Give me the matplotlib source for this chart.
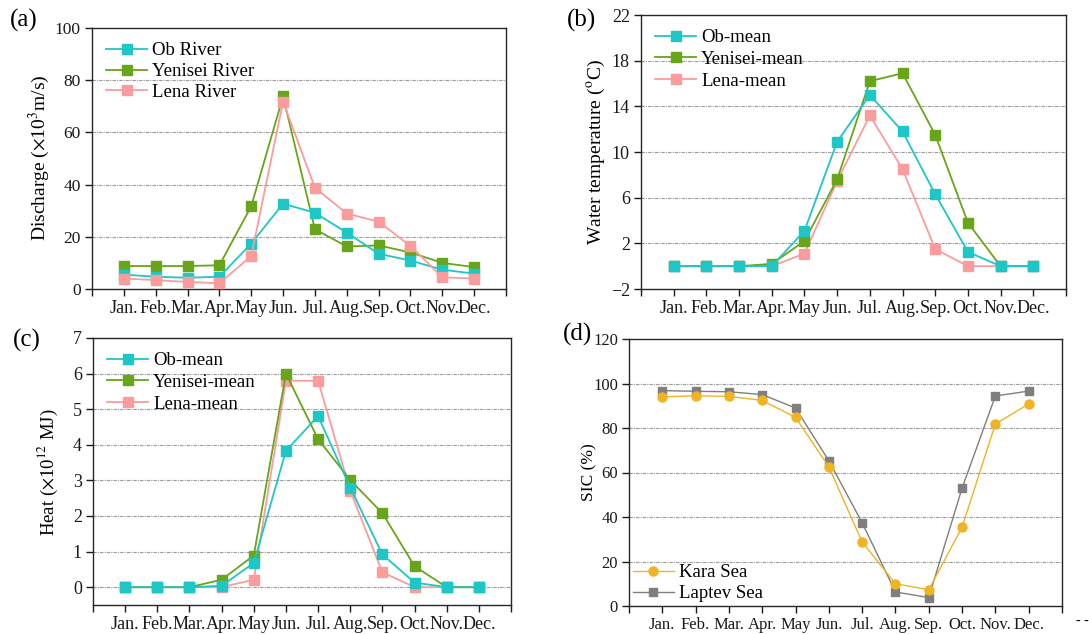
import numpy as np
import matplotlib
matplotlib.use("Agg")
import matplotlib.pyplot as plt

plt.rcParams['font.family'] = ['Liberation Serif', 'DejaVu Serif']
plt.rcParams['mathtext.fontset'] = 'stix'

months = ["Jan.", "Feb.", "Mar.", "Apr.", "May", "Jun.", "Jul.", "Aug.", "Sep.", "Oct.", "Nov.", "Dec."]

# (a) discharge, 10^3 m3/s
ob_q = [5.5, 4.7, 4.3, 4.7, 17.4, 32.7, 29.2, 21.6, 13.5, 10.9, 7.4, 5.9]
yen_q = [8.8, 8.8, 8.8, 9.1, 31.7, 73.8, 22.9, 16.3, 16.7, 14.0, 10.0, 8.4]
lena_q = [4.0, 3.4, 2.7, 2.2, 12.6, 71.8, 38.8, 28.9, 25.8, 16.5, 4.5, 4.0]

# (b) water temperature, degC
ob_t = [0, 0, 0, 0, 3.1, 10.9, 15.0, 11.8, 6.3, 1.25, 0, 0]
yen_t = [0, 0, 0, 0.2, 2.2, 7.6, 16.2, 16.9, 11.5, 3.8, 0, 0]
lena_t = [0, 0, 0, 0, 1.1, 7.45, 13.2, 8.5, 1.5, 0, 0, 0]

# (c) heat, 10^12 MJ
ob_h = [0, 0, 0, 0.04, 0.68, 3.83, 4.81, 2.80, 0.92, 0.13, 0, 0]
yen_h = [0, 0, 0, 0.21, 0.89, 6.0, 4.16, 3.01, 2.08, 0.59, 0, 0]
lena_h = [0, 0, 0, 0, 0.21, 5.80, 5.80, 2.71, 0.42, 0, 0, 0]

# (d) sea ice concentration, %
kara = [94.0, 94.5, 94.2, 92.4, 84.8, 62.5, 28.8, 10.0, 7.3, 35.4, 81.8, 90.8]
laptev = [96.8, 96.5, 96.3, 95.0, 89.0, 65.3, 37.4, 6.3, 3.8, 53.0, 94.4, 96.6]

c_ob = "#1fc6c6"
c_yen = "#68a51a"
c_lena = "#fb9c9c"
c_kara = "#efb324"
c_lap = "#7f7f7f"

W, H = 1089, 634
fig = plt.figure(figsize=(W / 100, H / 100), dpi=100)


def add_ax(left, right, top, bottom):
    return fig.add_axes([left / W, 1 - bottom / H, (right - left) / W, (bottom - top) / H])


def style(ax, ylim, yticks, grid_vals, xfs=13, yfs=13):
    ax.set_xlim(0, 13)
    ax.set_xticks(np.arange(0, 14))
    ax.set_xticklabels([""] + months + [""])
    ax.set_ylim(*ylim)
    ax.set_yticks(yticks)
    ax.tick_params(axis='both', direction='out', length=5, width=1, colors='#1a1a1a')
    ax.tick_params(axis='x', pad=3, labelsize=xfs)
    ax.tick_params(axis='y', pad=3, labelsize=yfs)
    for s in ax.spines.values():
        s.set_color('#262626')
        s.set_linewidth(1.0)
    for g in grid_vals:
        ax.axhline(g, color='#999999', lw=0.8, ls=(0, (3, 1, 1, 1)), zorder=0)


def river_panel(ax, ob, yen, lena, labels, z=(3, 4, 5)):
    x = np.arange(1, 13)
    ax.plot(x, ob, color=c_ob, marker='s', ms=7.5, lw=1.3, label=labels[0], zorder=z[0])
    ax.plot(x, yen, color=c_yen, marker='s', ms=7.5, lw=1.3, label=labels[1], zorder=z[1])
    ax.plot(x, lena, color=c_lena, marker='s', ms=7.5, lw=1.3, label=labels[2], zorder=z[2])


leg_kw = dict(loc='upper left', bbox_to_anchor=(0.0, 1.0), frameon=False, fontsize=13.5,
              handlelength=2.2, handletextpad=0.25, labelspacing=0.2, borderaxespad=0.35)

# (a)
ax1 = add_ax(92, 506, 28, 289)
style(ax1, (0, 100), [0, 20, 40, 60, 80, 100], [20, 40, 60, 80], yfs=12.5)
river_panel(ax1, ob_q, yen_q, lena_q, ["Ob River", "Yenisei River", "Lena River"], z=(4, 3, 5))
ax1.set_ylabel(r"Discharge ($\times$10$^3$m/s)", fontsize=14)
ax1.yaxis.set_label_coords(-0.097, 0.504)
ax1.legend(**leg_kw)

# (b)
ax2 = add_ax(641, 1066, 15, 289)
style(ax2, (-2, 22), [-2, 2, 6, 10, 14, 18, 22], [2, 6, 10, 14, 18])
river_panel(ax2, ob_t, yen_t, lena_t, ["Ob-mean", "Yenisei-mean", "Lena-mean"], z=(5, 4, 3))
ax2.set_ylabel(r"Water temperature ($^{\rm o}$C)", fontsize=14)
ax2.yaxis.set_label_coords(-0.08, 0.498)
ax2.legend(**dict(leg_kw, labelspacing=0.25))

# (c)
ax3 = add_ax(93, 511, 338, 605)
style(ax3, (-0.5, 7), [0, 1, 2, 3, 4, 5, 6, 7], [0, 1, 2, 3, 4, 5, 6])
river_panel(ax3, ob_h, yen_h, lena_h, ["Ob-mean", "Yenisei-mean", "Lena-mean"], z=(5, 4, 3))
ax3.set_ylabel(r"Heat ($\times$10$^{12}$ MJ)", fontsize=13.5)
ax3.yaxis.set_label_coords(-0.079, 0.498)
ax3.legend(**dict(leg_kw, labelspacing=0.25))

# (d)
ax4 = add_ax(629, 1062, 339, 606)
style(ax4, (0, 120), [0, 20, 40, 60, 80, 100, 120], [20, 40, 60, 80, 100], xfs=12, yfs=12)
xm = np.arange(1, 13)
ax4.plot(xm, kara, color=c_kara, marker='o', ms=6.5, lw=1.0, label="Kara Sea", zorder=4)
ax4.plot(xm, laptev, color=c_lap, marker='s', ms=6, lw=1.0, label="Laptev Sea", zorder=3)
ax4.set_ylabel("SIC (%)", fontsize=12.5)
ax4.yaxis.set_label_coords(-0.074, 0.5)
ax4.legend(loc='lower left', bbox_to_anchor=(0.0, 0.0), frameon=False, fontsize=13.5,
           handlelength=2.2, handletextpad=0.25, labelspacing=0.2, borderaxespad=0.0,
           borderpad=0.2)
# clipped label at the far right of panel (d)
fig.text(1076 / W, 1 - 621 / H, "- -", fontsize=10, ha='left', va='center')

# panel letters
for lab, px, py in [("(a)", 24, 20), ("(b)", 581, 20), ("(c)", 27, 340), ("(d)", 578, 334)]:
    fig.text(px / W, 1 - py / H, lab, fontsize=18, ha='center', va='center')

fig.savefig("out.png", dpi=100)
